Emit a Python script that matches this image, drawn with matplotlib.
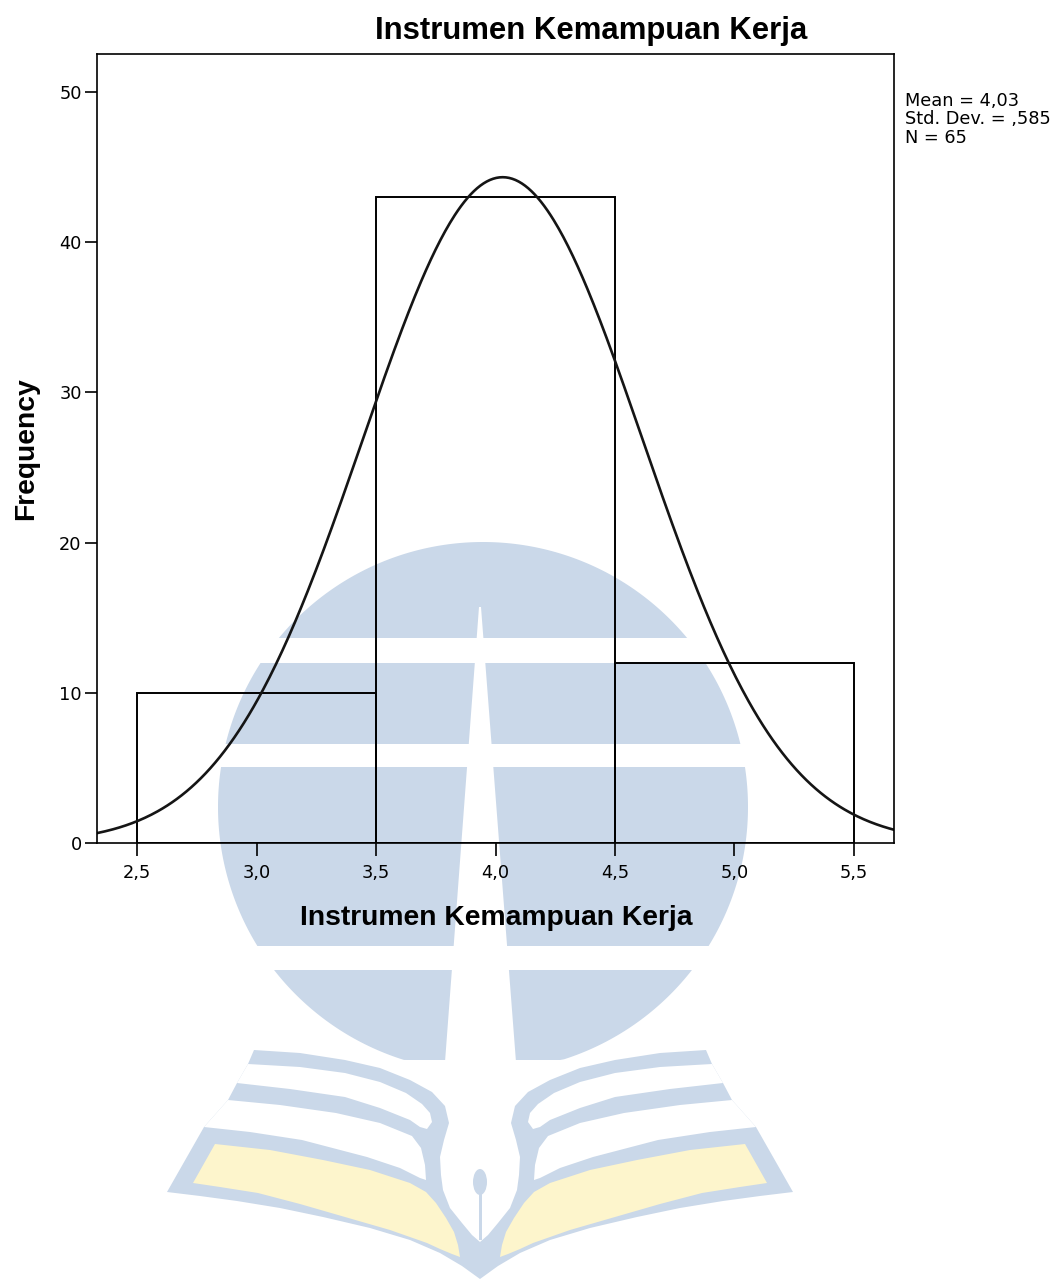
import numpy as np
import matplotlib
matplotlib.use("Agg")
import matplotlib.pyplot as plt
from matplotlib.patches import Polygon, Ellipse, Rectangle
from matplotlib.transforms import Affine2D

# ---- data ----
bin_edges = [2.5, 3.5, 4.5, 5.5]
counts = [10, 43, 12]
mean_val = 4.03
sd_val = 0.585
n_val = 65
x_ticks = [2.5, 3.0, 3.5, 4.0, 4.5, 5.0, 5.5]
x_tick_labels = ["2,5", "3,0", "3,5", "4,0", "4,5", "5,0", "5,5"]
y_ticks = [0, 10, 20, 30, 40, 50]
title = "Instrumen Kemampuan Kerja"
xlabel = "Instrumen Kemampuan Kerja"
ylabel = "Frequency"
stats_lines = ["Mean = 4,03", "Std. Dev. = ,585", "N = 65"]

W, H = 1061, 1279
fig = plt.figure(figsize=(W / 100, H / 100), dpi=100)
fig.patch.set_facecolor("white")
PX = Affine2D().scale(1 / W, -1 / H).translate(0, 1) + fig.transFigure

BLUE = "#cad8e9"
YEL = "#fdf5cc"

# ---- watermark (background decoration) ----
t = np.linspace(0, 2 * np.pi, 400)
cx, cy, r = 483, 807, 265
circ = np.column_stack([cx + r * np.cos(t), np.minimum(cy + r * np.sin(t), 1060)])
fig.add_artist(Polygon(circ, closed=True, facecolor=BLUE, edgecolor="none",
                       transform=PX, zorder=-10))
for (y0, y1) in [(638, 663), (744, 767), (946, 970)]:
    fig.add_artist(Rectangle((200, y0), 580, y1 - y0, facecolor="white",
                             edgecolor="none", transform=PX, zorder=-9))
fig.add_artist(Polygon([(479, 607), (481, 607), (516, 1062), (445, 1062)], closed=True,
                       facecolor="white", edgecolor="none", transform=PX, zorder=-9))

sil = [(254, 1050), (300, 1053), (345, 1060), (380, 1068), (410, 1080), (432, 1092),
       (445, 1106), (449, 1123), (444, 1140), (440, 1157), (441, 1175), (443, 1190),
       (450, 1208), (462, 1223), (472, 1235), (480, 1242), (480, 1279), (462, 1266),
       (440, 1253), (410, 1240), (370, 1228), (323, 1217), (280, 1208), (237, 1201),
       (200, 1196), (167, 1192), (204, 1127), (228, 1100), (237, 1083), (248, 1064)]
gap1 = [(248, 1064), (300, 1067), (345, 1073), (380, 1082), (406, 1093), (422, 1104),
        (430, 1113), (432, 1122), (427, 1129), (420, 1127), (410, 1120), (380, 1108),
        (345, 1097), (290, 1089), (237, 1083)]
gap2 = [(228, 1100), (280, 1105), (336, 1113), (380, 1123), (412, 1136), (421, 1148),
        (425, 1165), (426, 1180), (420, 1178), (400, 1168), (367, 1157), (302, 1140),
        (250, 1132), (204, 1127)]
yel = [(215, 1144), (270, 1150), (323, 1160), (370, 1170), (410, 1183), (426, 1192),
       (436, 1203), (446, 1218), (454, 1232), (458, 1245), (460, 1257), (452, 1254),
       (440, 1249), (427, 1243), (390, 1230), (345, 1217), (300, 1204), (258, 1193),
       (220, 1187), (193, 1183)]


def mirror(pts):
    return [(960 - x, y) for x, y in pts]


for pts, col, z in [(sil, BLUE, -8), (gap1, "white", -7), (gap2, "white", -7), (yel, YEL, -6)]:
    for p in (pts, mirror(pts)):
        fig.add_artist(Polygon(p, closed=True, facecolor=col, edgecolor="none",
                               transform=PX, zorder=z))
fig.add_artist(Ellipse((480, 1182), 14, 26, facecolor=BLUE, edgecolor="none",
                       transform=PX, zorder=-6))
fig.add_artist(Rectangle((479, 1190), 3, 50, facecolor=BLUE, edgecolor="none",
                         transform=PX, zorder=-6))

# ---- chart ----
ax = fig.add_axes([97 / W, 1 - 843 / H, 797 / W, 789 / H])
ax.set_facecolor("none")
ax.set_zorder(1)

centers = [(a + b) / 2 for a, b in zip(bin_edges[:-1], bin_edges[1:])]
widths = [b - a for a, b in zip(bin_edges[:-1], bin_edges[1:])]
ax.bar(centers, counts, width=widths, fill=False, edgecolor="black", linewidth=1.4)

xlo, xhi = 4.0 - 1.6674, 4.0 + 1.6674
xs = np.linspace(xlo, xhi, 500)
ys = n_val * widths[0] * np.exp(-0.5 * ((xs - mean_val) / sd_val) ** 2) / (sd_val * np.sqrt(2 * np.pi))
ax.plot(xs, ys, color="#151515", linewidth=1.9)

ax.set_xlim(xlo, xhi)
ax.set_ylim(0, 52.53)
ax.set_xticks(x_ticks)
ax.set_xticklabels(x_tick_labels)
ax.set_yticks(y_ticks)
ax.set_yticklabels([str(v) for v in y_ticks])
ax.tick_params(axis="both", direction="out", length=9, width=1.2, color="black",
               labelsize=12.8, labelcolor="black")
ax.tick_params(axis="x", pad=6)
ax.tick_params(axis="y", pad=2)
for lbl in ax.get_xticklabels() + ax.get_yticklabels():
    lbl.set_family("DejaVu Sans")
for s in ax.spines.values():
    s.set_linewidth(1.2)
    s.set_color("black")

fig.text(591.5 / W, 1 - 38.5 / H, title, ha="center", va="baseline",
         fontsize=22.4, fontweight="bold", family=["Liberation Sans", "DejaVu Sans"])
fig.text(496.5 / W, 1 - 925 / H, xlabel, ha="center", va="baseline",
         fontsize=20.3, fontweight="bold", family=["Liberation Sans", "DejaVu Sans"])
fig.text(26 / W, 1 - 449 / H, ylabel, ha="center", va="center", rotation=90,
         fontsize=20.3, fontweight="bold", family=["Liberation Sans", "DejaVu Sans"])
for i, line in enumerate(stats_lines):
    fig.text(905 / W, 1 - (106 + 18.5 * i) / H, line, ha="left", va="baseline",
             fontsize=12.8, family=["DejaVu Sans"])

fig.savefig("out.png", dpi=100, facecolor="white")
